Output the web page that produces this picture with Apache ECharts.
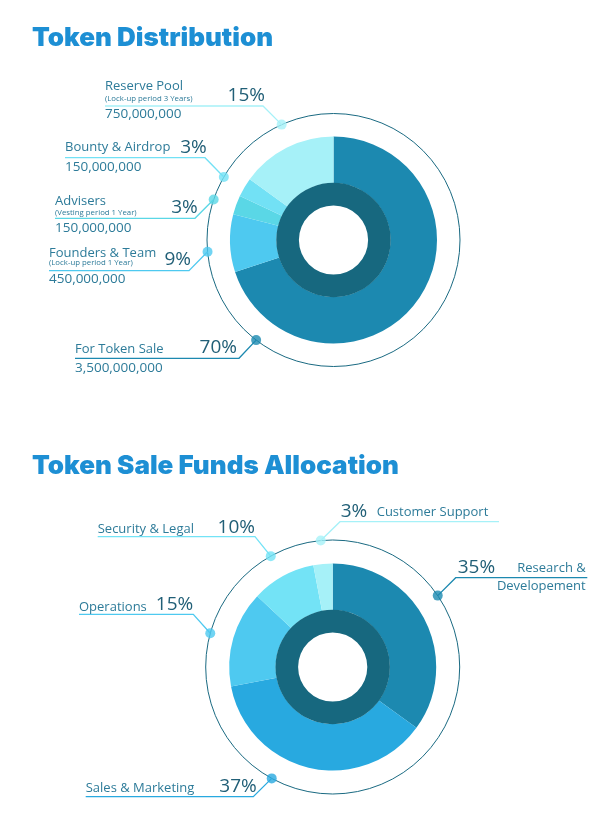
<!DOCTYPE html>
<html>
<head>
    <meta charset="utf-8">
    <script src="https://cdn.jsdelivr.net/npm/echarts@6/dist/echarts.min.js"></script>
    <style>
        body { margin: 0; background: #fff; }
        #main { width: 615px; height: 833px; }
    </style>
</head>
<body>
    <div id="main"></div>
    <script type="text/javascript">
        // ---- data ----
        var distNames = ['For Token Sale', 'Founders & Team', 'Advisers', 'Bounty & Airdrop', 'Reserve Pool'];
        var distNotes = ['', '(Lock-up period 1 Year)', '(Vesting period 1 Year)', '', '(Lock-up period 3 Years)'];
        var distValues = [70, 9, 3, 3, 15];
        var distTokens = ['3,500,000,000', '450,000,000', '150,000,000', '150,000,000', '750,000,000'];

        var fundNames = ['Research &\nDevelopement', 'Sales & Marketing', 'Operations', 'Security & Legal', 'Customer Support'];
        var fundValues = [35, 37, 15, 10, 3];

        // ---- look ----
        var distColors = ['#1c89b0', '#4ec9f0', '#5ad7e6', '#72e1f5', '#a6f1f8'];
        var fundColors = ['#1c89b0', '#28a9e0', '#4ec9f0', '#73e3f6', '#a6f1f8'];
        var ringColor = '#17687f';
        var circleColor = '#1a6a82';
        var nameColor = '#2d7b99';
        var pctColor = '#215f77';
        var titleColor = '#1d8fd4';
        var font = '"Open Sans", "DejaVu Sans", sans-serif';
        var titleFont = 'Inter, Roboto, sans-serif';

        var c1 = [333.5, 240];
        var c2 = [332.7, 667];

        // where the dots sit on the thin outer circle (degrees, clockwise from top)
        var distDotAngles = [217.7, 264.7, 288.7, 299.9, 335.8];
        var fundDotAngles = [55.8, 208.7, 285.4, 330.8, 354.6];

        // label boxes (left end x, underline y, elbow x, text rows)
        var distLabelPos = [
            {x: 75, y: 358.3, ex: 239, nameY: 349.7, pctX: 237, pctY: 347.3, valY: 368},
            {x: 49, y: 270.7, ex: 189, nameY: 252.8, noteY: 263.2, pctX: 191, pctY: 259.3, valY: 279.6},
            {x: 55, y: 218.3, ex: 195, nameY: 200.9, noteY: 212.8, pctX: 197.7, pctY: 207.3, valY: 228.6},
            {x: 65, y: 157.7, ex: 205, nameY: 147.5, pctX: 206.7, pctY: 147.6, valY: 167},
            {x: 105, y: 106, ex: 263, nameY: 85.9, noteY: 99, pctX: 265, pctY: 96, valY: 114.5}
        ];
        var fundLabelPos = [
            {right: true, x: 455.7, x2: 587.3, y: 577.7, pctX: 457.7, pctY: 567.3, nameX: 585.7, nameY: 568, alignEnd: true},
            {x: 85.7, y: 796.7, ex: 253.3, nameY: 788.6, pctX: 256.7, pctY: 786.3},
            {x: 79, y: 614.3, ex: 193.3, nameY: 607, pctX: 193.3, pctY: 605},
            {x: 97.7, y: 536.7, ex: 255, nameY: 529.5, pctX: 255, pctY: 527.6},
            {right: true, x: 340, x2: 499, y: 521.7, pctX: 340.7, pctY: 511.6, nameX: 376.7, nameY: 512}
        ];

        function pieData(values, names, colors) {
            return values.map(function (v, i) {
                return {value: v, name: names[i], itemStyle: {color: colors[i]}};
            });
        }

        function dotData(angles, colors) {
            return angles.map(function (a, i) {
                return {value: [1, a], itemStyle: {color: colors[i]}};
            });
        }

        function donut(center, values, names, colors) {
            return [{
                type: 'pie',
                center: center,
                radius: [57, 103.5],
                startAngle: 90,
                clockwise: true,
                silent: true,
                label: {show: false},
                labelLine: {show: false},
                itemStyle: {borderWidth: 0},
                data: pieData(values, names, colors)
            }, {
                type: 'pie',
                center: center,
                radius: [34.6, 57.2],
                silent: true,
                label: {show: false},
                labelLine: {show: false},
                itemStyle: {color: ringColor, borderWidth: 0},
                data: [{value: 1, name: 'ring'}]
            }];
        }

        function angleAxis(idx) {
            return {
                polarIndex: idx, type: 'value', min: 0, max: 360, startAngle: 90, clockwise: true,
                axisLine: {show: true, lineStyle: {color: circleColor, width: 1}},
                axisTick: {show: false}, axisLabel: {show: false}, splitLine: {show: false}
            };
        }

        function radiusAxis(idx) {
            return {
                polarIndex: idx, type: 'value', min: 0, max: 1,
                axisLine: {show: false}, axisTick: {show: false}, axisLabel: {show: false}, splitLine: {show: false}
            };
        }

        var myChart = echarts.init(document.getElementById('main'));
        var option = {
            animation: false,
            backgroundColor: '#fff',
            title: [{
                text: 'Token Distribution', left: 32, top: 25, padding: 0,
                textStyle: {color: titleColor, fontFamily: titleFont, fontWeight: 900, fontSize: 26}
            }, {
                text: 'Token Sale Funds Allocation', left: 32, top: 453, padding: 0,
                textStyle: {color: titleColor, fontFamily: titleFont, fontWeight: 900, fontSize: 26}
            }],
            polar: [{center: c1, radius: 126.5}, {center: c2, radius: 127}],
            angleAxis: [angleAxis(0), angleAxis(1)],
            radiusAxis: [radiusAxis(0), radiusAxis(1)],
            series: donut(c1, distValues, distNames, distColors)
                .concat(donut(c2, fundValues, fundNames, fundColors))
                .concat([{
                    type: 'scatter', coordinateSystem: 'polar', polarIndex: 0, symbolSize: 10, silent: true, z: 5,
                    data: dotData(distDotAngles, distColors)
                }, {
                    type: 'scatter', coordinateSystem: 'polar', polarIndex: 1, symbolSize: 10, silent: true, z: 5,
                    data: dotData(fundDotAngles, fundColors)
                }])
        };
        myChart.setOption(option);

        function txt(x, y, text, size, color, align) {
            return {
                type: 'text', x: x, y: y, silent: true, z: 10,
                style: {
                    text: text, fill: color, fontSize: size, fontFamily: font,
                    align: align || 'left', textAlign: align || 'left',
                    verticalAlign: 'middle', textVerticalAlign: 'middle', lineHeight: 18
                }
            };
        }

        function line(points, color) {
            return {
                type: 'polyline', silent: true, z: 4,
                shape: {points: points},
                style: {stroke: color, lineWidth: 1.3, fill: null}
            };
        }

        var els = [];
        distLabelPos.forEach(function (p, i) {
            var dot = myChart.convertToPixel({seriesIndex: 4}, [1, distDotAngles[i]]);
            els.push(line([[p.x, p.y], [p.ex, p.y], dot], distColors[i]));
            els.push(txt(p.x, p.nameY, distNames[i], 13, nameColor));
            if (distNotes[i]) els.push(txt(p.x, p.noteY, distNotes[i], 7.8, nameColor));
            els.push(txt(p.pctX, p.pctY, distValues[i] + '%', 19, pctColor, 'right'));
            els.push(txt(p.x, p.valY, distTokens[i], 13.5, nameColor));
        });
        fundLabelPos.forEach(function (p, i) {
            var dot = myChart.convertToPixel({seriesIndex: 5}, [1, fundDotAngles[i]]);
            if (p.right) {
                els.push(line([dot, [p.x, p.y], [p.x2, p.y]], fundColors[i]));
                els.push(txt(p.pctX, p.pctY, fundValues[i] + '%', 19, pctColor, 'left'));
                if (p.alignEnd) {
                    var lines = fundNames[i].split('\n');
                    els.push(txt(p.nameX, p.nameY, lines[0], 13, nameColor, 'right'));
                    els.push(txt(p.nameX, p.nameY + 18, lines[1], 13, nameColor, 'right'));
                } else {
                    els.push(txt(p.nameX, p.nameY, fundNames[i], 13, nameColor, 'left'));
                }
            } else {
                els.push(line([[p.x, p.y], [p.ex, p.y], dot], fundColors[i]));
                els.push(txt(p.x, p.nameY, fundNames[i], 13, nameColor));
                els.push(txt(p.pctX, p.pctY, fundValues[i] + '%', 19, pctColor, 'right'));
            }
        });
        myChart.setOption({graphic: {elements: els}});
    </script>
</body>
</html>
